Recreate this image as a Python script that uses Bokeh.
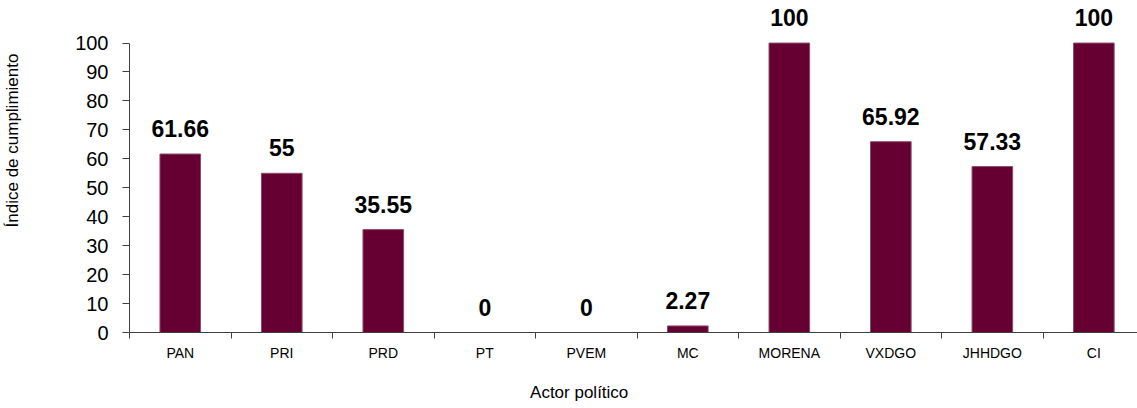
from bokeh.plotting import figure
from bokeh.models import ColumnDataSource, Range1d, FixedTicker, LabelSet
from bokeh.core.properties import value
from bokeh.embed import file_html
from bokeh.resources import INLINE

actors = ["PAN", "PRI", "PRD", "PT", "PVEM", "MC", "MORENA", "VXDGO", "JHHDGO", "CI"]
values = [61.66, 55, 35.55, 0, 0, 2.27, 100, 65.92, 57.33, 100]
labels = ["61.66", "55", "35.55", "0", "0", "2.27", "100", "65.92", "57.33", "100"]
y_ticks = [0, 10, 20, 30, 40, 50, 60, 70, 80, 90, 100]
x_title = "Actor político"
y_title = "Índice de cumplimiento"

FONT = "Liberation Sans"
BAR = "#660033"
NBSP = "\u00a0"

xs = list(range(len(actors)))
src = ColumnDataSource(dict(x=xs, top=values, label=labels))

p = figure(width=1137, height=408, output_backend="svg", toolbar_location=None,
           x_range=Range1d(-0.5, 9.43), y_range=Range1d(0, 114.7),
           min_border_left=127, min_border_right=0, min_border_top=0, min_border_bottom=76)
p.outline_line_color = None
p.grid.visible = False
p.background_fill_color = "white"
p.border_fill_color = "white"

p.vbar(x="x", top="top", width=0.4, source=src, fill_color=BAR, line_color="#8a4d68", line_width=1)

lbl = LabelSet(x="x", y="top", text="label", source=src, text_align="center", text_baseline="alphabetic",
               y_offset=17, text_font=value(FONT), text_font_style="bold", text_font_size="23px",
               text_color="black")
p.add_layout(lbl)

# x axis
xa = p.xaxis[0]
xa.ticker = FixedTicker(ticks=xs, minor_ticks=[i - 0.5 for i in range(len(actors) + 1)])
xa.major_label_overrides = {i: a for i, a in enumerate(actors)}
xa.major_tick_line_color = None
xa.major_tick_out = 6
xa.minor_tick_out = 6
xa.minor_tick_in = 0
xa.minor_tick_line_color = "#404040"
xa.axis_line_color = "#404040"
xa.major_label_text_font = FONT
xa.major_label_text_font_size = "14px"
xa.major_label_text_color = "black"
xa.major_label_standoff = 6
xa.axis_label = x_title + NBSP * 23
xa.axis_label_text_font = FONT
xa.axis_label_text_font_size = "17px"
xa.axis_label_text_font_style = "normal"
xa.axis_label_text_color = "black"
xa.axis_label_standoff = 19

ya = p.yaxis[0]
ya.ticker = FixedTicker(ticks=y_ticks)
ya.bounds = (0, 100)
ya.minor_tick_line_color = None
ya.major_tick_out = 7
ya.major_tick_in = 0
ya.major_tick_line_color = "#404040"
ya.axis_line_color = "#404040"
ya.major_label_text_font = FONT
ya.major_label_text_font_size = "20px"
ya.major_label_text_color = "black"
ya.major_label_standoff = 14
ya.axis_label = NBSP * 11 + y_title
ya.axis_label_text_font = FONT
ya.axis_label_text_font_size = "17px"
ya.axis_label_text_font_style = "normal"
ya.axis_label_text_color = "black"
ya.axis_label_standoff = 50

open("out.html", "w").write(file_html(p, INLINE))
